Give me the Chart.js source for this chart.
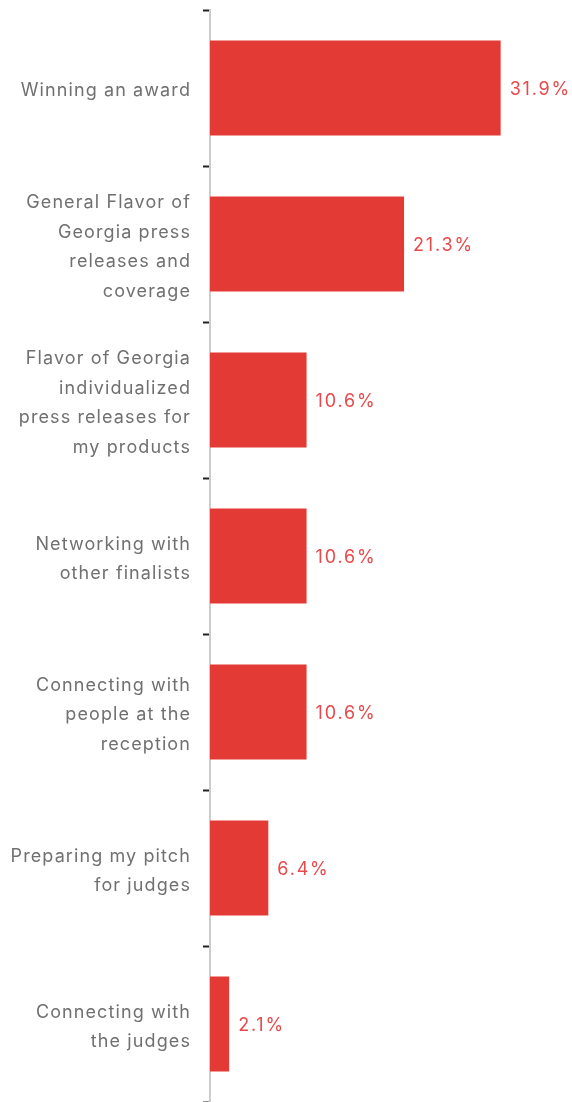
<!DOCTYPE html>
<html>
<head>
<meta charset="utf-8">
<script src="https://cdn.jsdelivr.net/npm/chart.js@4"></script>
<style>
  html, body { margin: 0; padding: 0; background: #fff; }
  #wrap { width: 572px; height: 1102px; }
</style>
</head>
<body>
<div id="wrap"><canvas id="grafico"></canvas></div>
<script>
const categorias = [
  ['Winning an award'],
  ['General Flavor of', 'Georgia press', 'releases and', 'coverage'],
  ['Flavor of Georgia', 'individualized', 'press releases for', 'my products'],
  ['Networking with', 'other finalists'],
  ['Connecting with', 'people at the', 'reception'],
  ['Preparing my pitch', 'for judges'],
  ['Connecting with', 'the judges']
];
const porcentajes = [31.9, 21.3, 10.6, 10.6, 10.6, 6.4, 2.1];

const colorBarra = '#e43a36';
const colorValor = '#e8494b';
const colorTexto = '#707070';
const fuente = 'Inter, "Noto Sans", sans-serif';

// espaciado de letras para las etiquetas del eje
const espaciadoLetras = {
  id: 'espaciadoLetras',
  beforeDraw(chart) {
    chart.ctx.letterSpacing = '1.1px';
  }
};

// etiquetas de valor al final de cada barra
const etiquetasValor = {
  id: 'etiquetasValor',
  afterDatasetsDraw(chart) {
    const ctx = chart.ctx;
    const meta = chart.getDatasetMeta(0);
    ctx.save();
    ctx.letterSpacing = '1.8px';
    ctx.font = '18px ' + fuente;
    ctx.fillStyle = colorValor;
    ctx.textAlign = 'left';
    ctx.textBaseline = 'middle';
    meta.data.forEach((barra, i) => {
      ctx.fillText(porcentajes[i].toFixed(1) + '%', barra.x + 9, barra.y + 2);
    });
    ctx.restore();
  }
};

new Chart(document.getElementById('grafico'), {
  type: 'bar',
  data: {
    labels: categorias,
    datasets: [{
      data: porcentajes,
      backgroundColor: colorBarra,
      barPercentage: 0.61,
      categoryPercentage: 1
    }]
  },
  options: {
    indexAxis: 'y',
    responsive: true,
    maintainAspectRatio: false,
    animation: false,
    layout: { padding: { top: 10, right: 34, bottom: -2, left: 0 } },
    scales: {
      x: { display: false, min: 0, max: 36 },
      y: {
        afterFit: (scale) => {
          scale.width = 210;
          scale.paddingTop = 0;
          scale.paddingBottom = 0;
        },
        border: { color: '#cccccc', width: 2 },
        grid: {
          drawOnChartArea: false,
          drawTicks: true,
          tickLength: 7,
          tickColor: '#222222',
          tickWidth: 2
        },
        ticks: {
          color: colorTexto,
          padding: 12,
          labelOffset: 3,
          font: { family: fuente, size: 18, lineHeight: 1.64 }
        }
      }
    },
    plugins: {
      legend: { display: false },
      tooltip: { enabled: false }
    }
  },
  plugins: [espaciadoLetras, etiquetasValor]
});
</script>
</body>
</html>
